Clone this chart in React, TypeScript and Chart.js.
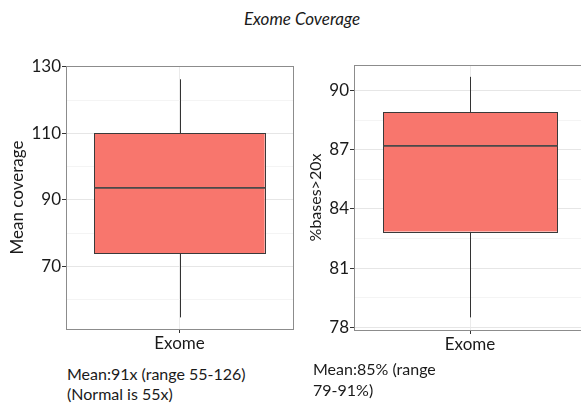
import React, { useEffect, useRef } from "react";
import { Chart, registerables } from "chart.js";

Chart.register(...registerables);

// ---- data ----
const categories = ["Exome"];
// [min, q1, median, q3, max]
const coverageBox = [54.6, 74.0, 93.6, 110.0, 126.3];
const basesBox = [78.5, 82.85, 87.2, 88.92, 90.7];

const coverageTicks = [70, 90, 110, 130];
const coverageMinorTicks = [60, 80, 100, 120];
const basesTicks = [78, 81, 84, 87, 90];
const basesMinorTicks = [79.5, 82.5, 85.5, 88.5];

const coverageRange = [51.1, 130.3];
const basesRange = [77.86, 91.3];

const FONT = "Lato, 'Open Sans', sans-serif";
const BOX_FILL = "#F8766D";
const DARK = "#333333";

type PanelProps = {
  left: number;
  top: number;
  width: number;
  height: number;
  yTitle: string;
  yTitleSize: number;
  box: number[];
  major: number[];
  minor: number[];
  range: number[];
  yWidth: number;
  xHeight: number;
  padTop: number;
  padRight: number;
  titlePad: number;
};

const crisp = (v: number) => Math.round(v) + 0.5;

const boxPlugin = {
  id: "boxWhiskers",
  afterDatasetsDraw(chart: any, _args: any, opts: any) {
    const box: number[] = opts.box;
    const meta = chart.getDatasetMeta(0);
    const bar = meta.data[0];
    if (!bar) return;
    const y = chart.scales.y;
    const ctx = chart.ctx;
    const x = crisp(bar.x);
    const half = bar.width / 2;
    const l = crisp(bar.x - half);
    const r = crisp(bar.x + half);
    const tY = crisp(y.getPixelForValue(box[3]));
    const bY = crisp(y.getPixelForValue(box[1]));
    ctx.save();
    ctx.strokeStyle = DARK;
    ctx.lineWidth = 1;
    ctx.beginPath();
    ctx.moveTo(x, tY);
    ctx.lineTo(x, y.getPixelForValue(box[4]));
    ctx.moveTo(x, bY);
    ctx.lineTo(x, y.getPixelForValue(box[0]));
    ctx.stroke();
    ctx.strokeStyle = "#3a3a3a";
    ctx.strokeRect(l, tY, r - l, bY - tY);
    ctx.lineWidth = 1.6;
    ctx.strokeStyle = "#4a4a4a";
    ctx.beginPath();
    const my = y.getPixelForValue(box[2]);
    ctx.moveTo(l, my);
    ctx.lineTo(r, my);
    ctx.stroke();
    ctx.restore();
  },
  afterDraw(chart: any) {
    const a = chart.chartArea;
    const ctx = chart.ctx;
    ctx.save();
    ctx.strokeStyle = "#8c8c8c";
    ctx.lineWidth = 1;
    ctx.strokeRect(Math.round(a.left) + 0.5, Math.round(a.top) + 0.5, Math.round(a.right - a.left), Math.round(a.bottom - a.top));
    ctx.restore();
  },
};

function BoxPanel(p: PanelProps) {
  const ref = useRef<HTMLCanvasElement | null>(null);
  useEffect(() => {
    if (!ref.current) return;
    const all = [...p.major, ...p.minor].sort((a, b) => a - b);
    const isMajor = (v: number) => p.major.some((m) => Math.abs(m - v) < 1e-9);
    const chart = new Chart(ref.current, {
      type: "bar",
      data: {
        labels: categories,
        datasets: [
          {
            data: [[p.box[1], p.box[3]]] as any,
            backgroundColor: BOX_FILL,
            borderWidth: 0,
            barPercentage: 0.75,
            categoryPercentage: 1,
          },
        ],
      },
      options: {
        responsive: false,
        animation: false,
        devicePixelRatio: 1,
        layout: { padding: { top: p.padTop, right: p.padRight, left: 0, bottom: 0 } },
        plugins: {
          legend: { display: false },
          tooltip: { enabled: false },
          boxWhiskers: { box: p.box },
        } as any,
        scales: {
          x: {
            type: "category",
            offset: true,
            border: { display: false },
            grid: {
              offset: false,
              color: "#ebebeb",
              tickColor: DARK,
              tickLength: 4,
            },
            ticks: {
              color: "#1a1a1a",
              font: { family: FONT, size: 17 },
              padding: 0,
            },
            afterFit: (s: any) => {
              s.height = p.xHeight;
            },
          },
          y: {
            type: "linear",
            min: p.range[0],
            max: p.range[1],
            border: { display: false },
            afterBuildTicks: (s: any) => {
              s.ticks = all.map((v) => ({ value: v }));
            },
            afterFit: (s: any) => {
              s.width = p.yWidth;
            },
            grid: {
              color: (c: any) => (c.tick && isMajor(c.tick.value) ? "#e6e6e6" : "#f4f4f4"),
              tickColor: (c: any) => (c.tick && isMajor(c.tick.value) ? DARK : "rgba(0,0,0,0)"),
              tickLength: 4,
            },
            ticks: {
              autoSkip: false,
              color: "#1a1a1a",
              font: { family: FONT, size: 17 },
              padding: 1,
              callback: (v: any) => (isMajor(Number(v)) ? String(v) : ""),
            },
            title: {
              display: true,
              text: p.yTitle,
              color: "#1a1a1a",
              font: { family: FONT, size: p.yTitleSize },
              padding: { top: p.titlePad, bottom: 0 },
            },
          },
        },
      },
      plugins: [boxPlugin],
    });
    return () => chart.destroy();
  }, []);
  return (
    <canvas
      ref={ref}
      width={p.width}
      height={p.height}
      style={{ position: "absolute", left: p.left, top: p.top, width: p.width, height: p.height }}
    />
  );
}

const textStyle: React.CSSProperties = {
  position: "absolute",
  fontFamily: FONT,
  fontSize: 16,
  color: "#1a1a1a",
  whiteSpace: "nowrap",
};

export default function App() {
  return (
    <div
      style={{
        position: "fixed",
        left: 0,
        top: 0,
        width: 581,
        height: 407,
        overflow: "hidden",
        background: "#fff",
      }}
    >
      <div
        style={{
          ...textStyle,
          fontStyle: "italic",
          fontSize: 17,
          left: 302,
          top: 8,
          transform: "translateX(-50%)",
        }}
      >
        Exome Coverage
      </div>
      <BoxPanel
        left={0}
        top={40}
        width={300}
        height={320}
        yTitle="Mean coverage"
        yTitleSize={17}
        box={coverageBox}
        major={coverageTicks}
        minor={coverageMinorTicks}
        range={coverageRange}
        yWidth={66}
        xHeight={31}
        padTop={26}
        padRight={7}
        titlePad={7}
      />
      <BoxPanel
        left={290}
        top={40}
        width={300}
        height={320}
        yTitle="%bases>20x"
        yTitleSize={16}
        box={basesBox}
        major={basesTicks}
        minor={basesMinorTicks}
        range={basesRange}
        yWidth={64}
        xHeight={30}
        padTop={25}
        padRight={4}
        titlePad={16}
      />
      <div style={{ ...textStyle, left: 67, top: 364, lineHeight: "20px" }}>
        Mean:91x (range 55-126)
        <br />
        (Normal is 55x)
      </div>
      <div style={{ ...textStyle, left: 313, top: 358, lineHeight: "21px" }}>
        Mean:85% (range
        <br />
        79-91%)
      </div>
    </div>
  );
}
